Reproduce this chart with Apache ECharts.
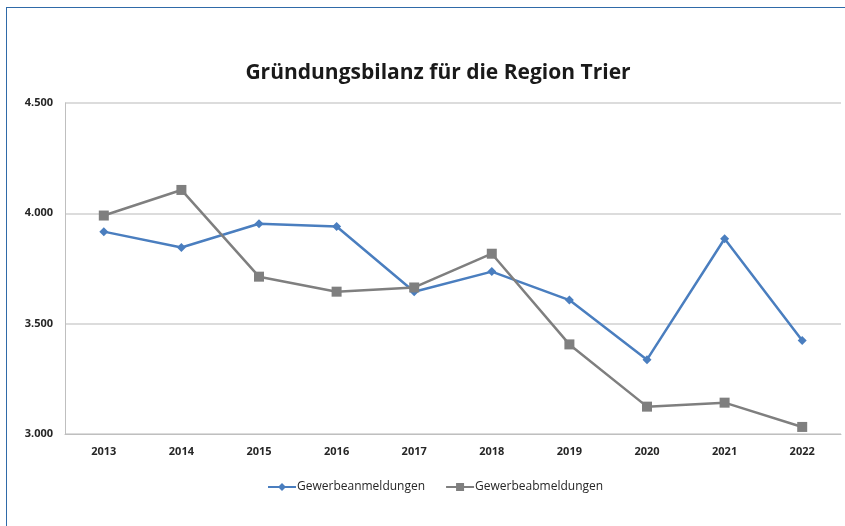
<!DOCTYPE html>
<html>
<head>
<meta charset="utf-8">
<script src="https://cdn.jsdelivr.net/npm/echarts@6/dist/echarts.min.js"></script>
<style>
  html, body { margin: 0; padding: 0; background: #fff; }
  #frame { position: absolute; left: 6px; top: 7px; width: 845px; height: 526px; border-top: 1.5px solid #2f6aa8; border-left: 1.5px solid #2f6aa8; }
  #chart { position: absolute; left: 0; top: 0; width: 845px; height: 526px; }
</style>
</head>
<body>
<div id="frame"></div>
<div id="chart"></div>
<script>
const years = ['2013', '2014', '2015', '2016', '2017', '2018', '2019', '2020', '2021', '2022']
const anmeldungen = [3917, 3845, 3953, 3940, 3645, 3736, 3607, 3337, 3885, 3424]
const abmeldungen = [3990, 4106, 3713, 3645, 3664, 3817, 3406, 3124, 3142, 3032]

const chart = echarts.init(document.getElementById('chart'))
const labelFont = { fontFamily: 'Open Sans', fontWeight: 'bold', fontSize: 11, color: '#262626' }

chart.setOption({
  animation: false,
  title: {
    text: 'Gründungsbilanz für die Region Trier',
    left: 433,
    textAlign: 'center',
    top: 58,
    textStyle: { fontFamily: 'Open Sans', fontWeight: 'bold', fontSize: 21, color: '#1a1a1a' }
  },
  grid: { left: 65, right: 4, top: 103, bottom: 92, containLabel: false },
  legend: {
    top: 476,
    left: 262,
    itemGap: 20,
    itemWidth: 28,
    itemHeight: 10,
    textStyle: { fontFamily: 'Open Sans', fontSize: 12, color: '#262626', padding: [0, 0, 0, -4] },
    data: ['Gewerbeanmeldungen', 'Gewerbeabmeldungen']
  },
  xAxis: {
    type: 'category',
    data: years,
    axisLine: { lineStyle: { color: '#bfbfbf', width: 1 } },
    axisTick: { alignWithLabel: true, length: 4, lineStyle: { color: '#bfbfbf' } },
    axisLabel: Object.assign({ margin: 12 }, labelFont)
  },
  yAxis: {
    type: 'value',
    min: 3000,
    max: 4500,
    interval: 500,
    axisLine: { show: true, lineStyle: { color: '#bfbfbf', width: 1 } },
    axisTick: { show: false },
    splitLine: { lineStyle: { color: '#d0d0d0', width: 1.5 } },
    axisLabel: Object.assign({
      margin: 12,
      formatter: v => (v / 1000).toFixed(3)
    }, labelFont)
  },
  series: [
    {
      name: 'Gewerbeanmeldungen',
      type: 'line',
      data: anmeldungen,
      symbol: 'diamond',
      symbolSize: 9,
      lineStyle: { color: '#4a7ebf', width: 2.5 },
      itemStyle: { color: '#4a7ebf' }
    },
    {
      name: 'Gewerbeabmeldungen',
      type: 'line',
      data: abmeldungen,
      symbol: 'rect',
      symbolSize: 10,
      lineStyle: { color: '#7f7f7f', width: 2.5 },
      itemStyle: { color: '#7f7f7f' }
    }
  ]
})
</script>
</body>
</html>
